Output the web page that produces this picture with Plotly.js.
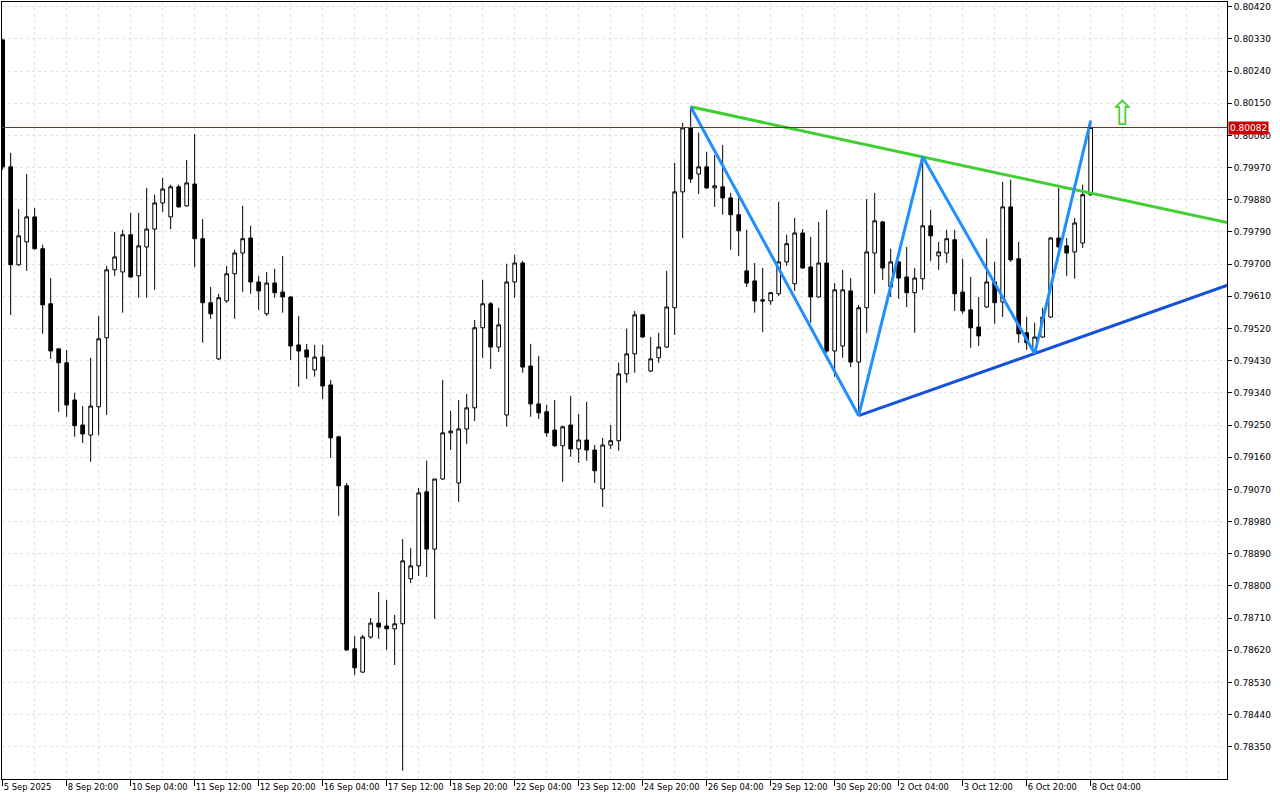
<!DOCTYPE html>
<html>
<head>
<meta charset="utf-8">
<script src="https://cdn.plot.ly/plotly-3.0.1.min.js"></script>
<style>
  html, body { margin: 0; padding: 0; background: #ffffff; }
  #chart { width: 1280px; height: 800px; }
</style>
</head>
<body>
<div id="chart"></div>
<script>
// ---- Data (4H candles, 5 Sep 2025 -> 8 Oct 2025 04:00) ----
const opens = [
  0.80327,0.79972,0.79698,0.79762,0.79832,0.79743,0.79589,0.79463,0.79424,0.79320,
  0.79250,0.79222,0.79301,0.79494,0.79684,0.79678,0.79782,0.79667,0.79748,0.79798,
  0.79871,0.79832,0.79916,0.79863,0.79924,0.79771,0.79592,0.79435,0.79597,0.79673,
  0.79731,0.79773,0.79650,0.79561,0.79647,0.79622,0.79608,0.79474,0.79460,0.79404,
  0.79440,0.79362,0.79217,0.79080,0.78624,0.78559,0.78657,0.78696,0.78688,0.78680,
  0.78694,0.78820,0.78856,0.79063,0.78903,0.79099,0.79228,0.79088,0.79239,0.79298,
  0.79522,0.79589,0.79468,0.79278,0.79650,0.79703,0.79415,0.79309,0.79287,0.79236,
  0.79192,0.79250,0.79183,0.79208,0.79180,0.79071,0.79194,0.79206,0.79393,0.79449,
  0.79558,0.79401,0.79438,0.79468,0.79578,0.79902,0.80081,0.79952,0.79972,0.79913,
  0.79916,0.79885,0.79838,0.79681,0.79653,0.79600,0.79597,0.79617,0.79706,0.79645,
  0.79787,0.79692,0.79608,0.79703,0.79457,0.79471,0.79625,0.79426,0.79578,0.79731,
  0.79818,0.79636,0.79706,0.79664,0.79620,0.79659,0.79807,0.79723,0.79731,0.79768,
  0.79622,0.79572,0.79524,0.79580,0.79650,0.79594,0.79860,0.79715,0.79508,0.79454,
  0.79496,0.79552,0.79773,0.79751,0.79734,0.79759,0.79894
];
const highs = [
  0.80330,0.80011,0.79854,0.79952,0.79857,0.79754,0.79661,0.79463,0.79460,0.79340,
  0.79303,0.79438,0.79555,0.79695,0.79790,0.79796,0.79843,0.79843,0.79913,0.79894,
  0.79941,0.79922,0.79922,0.79991,0.80064,0.79826,0.79636,0.79617,0.79695,0.79740,
  0.79863,0.79807,0.79667,0.79678,0.79687,0.79723,0.79611,0.79555,0.79477,0.79474,
  0.79474,0.79376,0.79220,0.79088,0.78660,0.78663,0.78710,0.78783,0.78761,0.78719,
  0.78931,0.78906,0.79074,0.79150,0.79099,0.79376,0.79289,0.79320,0.79337,0.79544,
  0.79656,0.79594,0.79578,0.79701,0.79726,0.79709,0.79477,0.79443,0.79306,0.79320,
  0.79248,0.79331,0.79281,0.79315,0.79194,0.79214,0.79250,0.79424,0.79519,0.79569,
  0.79561,0.79496,0.79508,0.79681,0.79983,0.80095,0.80140,0.80067,0.80014,0.80005,
  0.80033,0.79899,0.79899,0.79796,0.79703,0.79689,0.79622,0.79874,0.79782,0.79829,
  0.79798,0.79776,0.79818,0.79852,0.79647,0.79684,0.79661,0.79586,0.79882,0.79899,
  0.79821,0.79743,0.79709,0.79748,0.79689,0.80000,0.79852,0.79762,0.79796,0.79796,
  0.79715,0.79664,0.79608,0.79771,0.79706,0.79930,0.79936,0.79762,0.79552,0.79536,
  0.79578,0.79776,0.79913,0.79773,0.79829,0.79922,0.80101
];
const lows = [
  0.79964,0.79558,0.79695,0.79681,0.79740,0.79505,0.79435,0.79287,0.79273,0.79217,
  0.79200,0.79147,0.79222,0.79278,0.79667,0.79564,0.79662,0.79606,0.79606,0.79628,
  0.79846,0.79798,0.79858,0.79860,0.79692,0.79480,0.79547,0.79432,0.79592,0.79547,
  0.79622,0.79617,0.79572,0.79555,0.79606,0.79564,0.79432,0.79357,0.79379,0.79385,
  0.79323,0.79158,0.78996,0.78618,0.78551,0.78557,0.78652,0.78652,0.78621,0.78579,
  0.78283,0.78808,0.78828,0.78825,0.78708,0.79096,0.79180,0.79035,0.79197,0.79261,
  0.79438,0.79407,0.79454,0.79245,0.79606,0.79396,0.79273,0.79267,0.79217,0.79189,
  0.79091,0.79161,0.79144,0.79150,0.79088,0.79021,0.79183,0.79178,0.79368,0.79396,
  0.79494,0.79398,0.79424,0.79466,0.79502,0.79773,0.79927,0.79896,0.79910,0.79860,
  0.79838,0.79740,0.79723,0.79636,0.79564,0.79510,0.79586,0.79611,0.79695,0.79625,
  0.79687,0.79536,0.79606,0.79452,0.79385,0.79438,0.79412,0.79278,0.79508,0.79617,
  0.79656,0.79608,0.79603,0.79580,0.79508,0.79628,0.79709,0.79684,0.79703,0.79569,
  0.79561,0.79466,0.79471,0.79578,0.79533,0.79552,0.79706,0.79480,0.79460,0.79450,
  0.79494,0.79550,0.79746,0.79667,0.79659,0.79745,0.79891
];
const closes = [
  0.79972,0.79698,0.79779,0.79832,0.79743,0.79586,0.79457,0.79424,0.79306,0.79248,
  0.79225,0.79303,0.79491,0.79684,0.79720,0.79782,0.79664,0.79751,0.79798,0.79871,
  0.79910,0.79916,0.79860,0.79927,0.79771,0.79592,0.79561,0.79606,0.79673,0.79731,
  0.79771,0.79650,0.79625,0.79647,0.79620,0.79608,0.79471,0.79457,0.79440,0.79440,
  0.79359,0.79214,0.79080,0.78621,0.78571,0.78657,0.78696,0.78685,0.78680,0.78694,
  0.78870,0.78856,0.79060,0.78903,0.79099,0.79228,0.79233,0.79239,0.79298,0.79522,
  0.79589,0.79468,0.79530,0.79650,0.79703,0.79412,0.79309,0.79284,0.79228,0.79192,
  0.79245,0.79183,0.79208,0.79180,0.79122,0.79194,0.79206,0.79393,0.79449,0.79558,
  0.79496,0.79435,0.79468,0.79580,0.79902,0.80081,0.79938,0.79972,0.79913,0.79919,
  0.79885,0.79838,0.79793,0.79647,0.79597,0.79597,0.79620,0.79706,0.79757,0.79787,
  0.79689,0.79608,0.79703,0.79457,0.79628,0.79628,0.79426,0.79578,0.79734,0.79821,
  0.79689,0.79706,0.79661,0.79620,0.79661,0.79807,0.79779,0.79734,0.79771,0.79617,
  0.79569,0.79522,0.79499,0.79650,0.79592,0.79860,0.79712,0.79505,0.79480,0.79496,
  0.79552,0.79773,0.79748,0.79731,0.79815,0.79894,0.80082
];

// time-axis labels (every 8th 4H bar)
const timeLabelIdx = [0,8,16,24,32,40,48,56,64,72,80,88,96,104,112,120,128,136];
const timeLabels = ["5 Sep 2025","8 Sep 20:00","10 Sep 04:00","11 Sep 12:00","12 Sep 20:00",
  "16 Sep 04:00","17 Sep 12:00","18 Sep 20:00","22 Sep 04:00","23 Sep 12:00",
  "24 Sep 20:00","26 Sep 04:00","29 Sep 12:00","30 Sep 20:00","2 Oct 04:00",
  "3 Oct 12:00","6 Oct 20:00","8 Oct 04:00"];

// price-axis ticks
const priceTicks = [0.78350,0.78440,0.78530,0.78620,0.78710,0.78800,0.78890,0.78980,0.79070,
  0.79160,0.79250,0.79340,0.79430,0.79520,0.79610,0.79700,0.79790,0.79880,0.79970,
  0.80060,0.80150,0.80240,0.80330,0.80420];

// drawn objects
const resistX = [86, 153.1];            // green descending trendline
const resistY = [0.80140, 0.79816];
const supportX = [107, 153.1];          // dark-blue ascending trendline
const supportY = [0.79276, 0.79641];
const zigzagX = [86, 107, 115, 129, 136];
const zigzagY = [0.80140, 0.79276, 0.80000, 0.79450, 0.80101];
const lastPrice = 0.80082;
const arrowX = 140, arrowY = 0.80122;

const idx = opens.map((_, i) => i);

const traces = [
  {
    type: 'candlestick',
    x: idx, open: opens, high: highs, low: lows, close: closes,
    increasing: { line: { color: '#000000', width: 1 }, fillcolor: '#ffffff' },
    decreasing: { line: { color: '#000000', width: 1 }, fillcolor: '#000000' },
    whiskerwidth: 0,
    hoverinfo: 'skip',
    showlegend: false
  },
  { type: 'scatter', mode: 'lines', x: resistX, y: resistY,
    line: { color: '#3fcf33', width: 3 }, hoverinfo: 'skip', showlegend: false },
  { type: 'scatter', mode: 'lines', x: supportX, y: supportY,
    line: { color: '#1452db', width: 3 }, hoverinfo: 'skip', showlegend: false },
  { type: 'scatter', mode: 'lines', x: zigzagX, y: zigzagY,
    line: { color: '#1e90ff', width: 3 }, hoverinfo: 'skip', showlegend: false }
];

const axisFont = { family: 'DejaVu Sans, sans-serif', size: 9, color: '#000000' };
const timeFont = { family: 'DejaVu Sans, sans-serif', size: 8.4, color: '#000000' };

const layout = {
  width: 1280, height: 800,
  margin: { l: 2, r: 53, t: 2, b: 21, pad: 0 },
  paper_bgcolor: '#ffffff', plot_bgcolor: '#ffffff',
  showlegend: false,
  boxgap: 0.34,
  xaxis: {
    type: 'linear',
    range: [-0.084, 153.04],
    rangeslider: { visible: false },
    tickmode: 'array', tickvals: timeLabelIdx, ticktext: timeLabels,
    tickangle: 0,
    ticks: 'outside', ticklen: 6, tickcolor: '#000000', tickwidth: 1,
    ticklabelposition: 'outside right',
    tickfont: timeFont,
    showgrid: true, gridcolor: '#e3e3e3', griddash: '3px,3px', gridwidth: 1,
    minor: { tickmode: 'linear', tick0: 0, dtick: 4, showgrid: true,
             gridcolor: '#e3e3e3', griddash: '3px,3px', gridwidth: 1, ticks: '' },
    showline: true, linecolor: '#000000', linewidth: 1, mirror: true,
    zeroline: false, fixedrange: true
  },
  yaxis: {
    side: 'right',
    range: [0.78260, 0.80433],
    tickmode: 'array', tickvals: priceTicks,
    tickformat: '.5f',
    ticks: 'outside', ticklen: 4, tickcolor: '#000000', tickwidth: 1,
    tickfont: axisFont,
    showgrid: true, gridcolor: '#e3e3e3', griddash: '3px,3px', gridwidth: 1,
    showline: true, linecolor: '#000000', linewidth: 1, mirror: true,
    zeroline: false, fixedrange: true
  },
  shapes: [
    { type: 'line', xref: 'paper', x0: 0, x1: 1, yref: 'y', y0: lastPrice, y1: lastPrice,
      line: { color: '#b01818', width: 1 } }
  ],
  annotations: [
    { xref: 'paper', x: 1, xanchor: 'left', xshift: 1, yref: 'y', y: lastPrice, yanchor: 'middle',
      text: lastPrice.toFixed(5), showarrow: false, bgcolor: '#c80000', borderpad: 1,
      font: { family: 'DejaVu Sans, sans-serif', size: 9, color: '#ffffff' } },
    { xref: 'x', x: arrowX, yref: 'y', y: arrowY, text: '⇧', showarrow: false,
      font: { family: 'DejaVu Sans, sans-serif', size: 34, color: '#3fcf33' } }
  ]
};

Plotly.newPlot('chart', traces, layout, { displayModeBar: false, staticPlot: true });
</script>
</body>
</html>
